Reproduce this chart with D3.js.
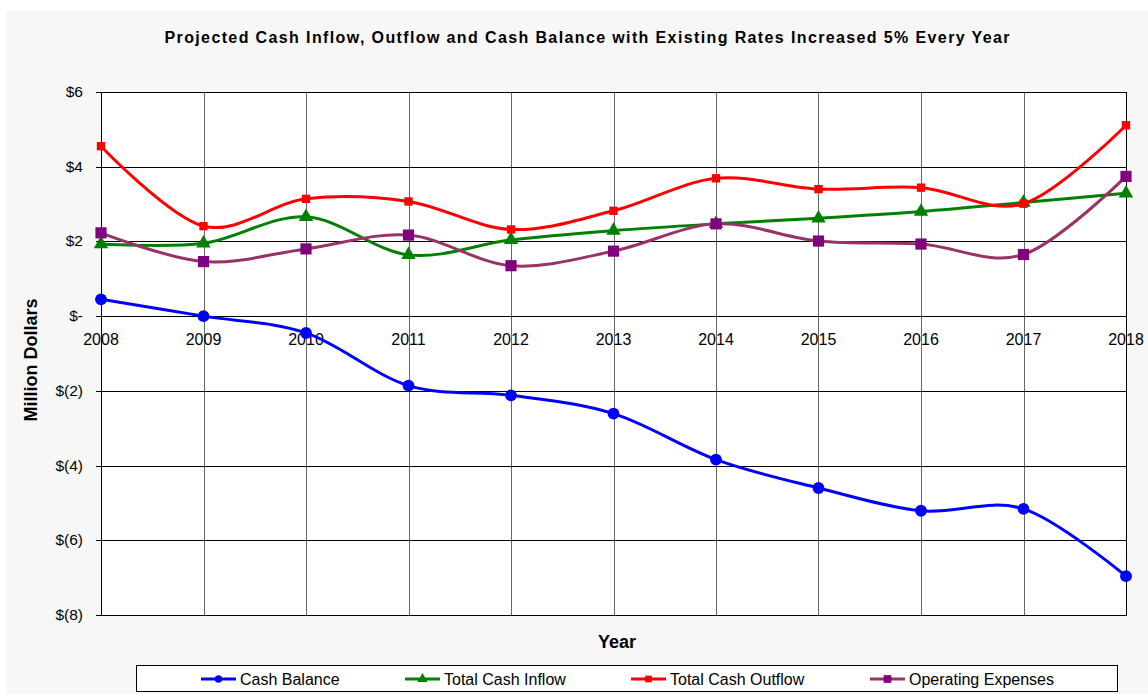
<!DOCTYPE html>
<html lang="en">
<head>
  <meta charset="UTF-8">
  <script src="https://d3js.org/d3.v7.min.js"></script>
  <style>
    body { margin: 0; background: #fff; }
    text { font-family: "Liberation Sans", Arial, sans-serif; fill: #000; }
  </style>
</head>
<body>
  <div id="chart"></div>
  <script>
    // Chart data (million dollars)
    var years = [2008, 2009, 2010, 2011, 2012, 2013, 2014, 2015, 2016, 2017, 2018];
    var cashBalance = [0.45, 0.0, -0.45, -1.86, -2.12, -2.61, -3.84, -4.60, -5.21, -5.16, -6.96];
    var totalInflow = [1.93, 1.95, 2.66, 1.64, 2.04, 2.29, 2.47, 2.62, 2.80, 3.04, 3.29];
    var totalOutflow = [4.55, 2.41, 3.14, 3.07, 2.32, 2.82, 3.69, 3.40, 3.44, 3.01, 5.11];
    var operatingExp = [2.23, 1.46, 1.80, 2.17, 1.35, 1.74, 2.47, 2.01, 1.93, 1.65, 3.74];
    var yTicks = [6, 4, 2, 0, -2, -4, -6, -8];

    var series = [
      { name: "Cash Balance", values: cashBalance, line: "#0000ff", fill: "#0000ff", marker: "circle" },
      { name: "Total Cash Inflow", values: totalInflow, line: "#008000", fill: "#008000", marker: "triangle" },
      { name: "Total Cash Outflow", values: totalOutflow, line: "#ff0000", fill: "#ff0000", marker: "squareSmall" },
      { name: "Operating Expenses", values: operatingExp, line: "#993366", fill: "#800080", marker: "square" }
    ];

    var width = 1148, height = 694;
    var plot = { left: 101, right: 1126, top: 92, bottom: 615 };

    var svg = d3.select("#chart").append("svg")
      .attr("width", width)
      .attr("height", height);

    svg.append("rect")
      .attr("x", 6).attr("y", 11)
      .attr("width", width - 6).attr("height", height - 11)
      .attr("fill", "#f7f7f7");

    var x = d3.scaleLinear().domain([2008, 2018]).range([plot.left, plot.right]);
    var y = d3.scaleLinear().domain([-8, 6]).range([plot.bottom, plot.top]);

    svg.append("rect")
      .attr("x", plot.left).attr("y", plot.top)
      .attr("width", plot.right - plot.left).attr("height", plot.bottom - plot.top)
      .attr("fill", "#fff");

    // vertical grid
    svg.append("g").selectAll("line")
      .data(years)
      .enter().append("line")
      .attr("x1", function (d) { return Math.round(x(d)) + 0.5; })
      .attr("x2", function (d) { return Math.round(x(d)) + 0.5; })
      .attr("y1", plot.top).attr("y2", plot.bottom)
      .attr("stroke", "#666").attr("stroke-width", 1);

    // horizontal grid + ticks
    svg.append("g").selectAll("line")
      .data(yTicks)
      .enter().append("line")
      .attr("x1", plot.left - 5).attr("x2", plot.right)
      .attr("y1", function (d) { return Math.round(y(d)) + 0.5; })
      .attr("y2", function (d) { return Math.round(y(d)) + 0.5; })
      .attr("stroke", "#000").attr("stroke-width", 1);

    svg.append("rect")
      .attr("x", plot.left + 0.5).attr("y", plot.top + 0.5)
      .attr("width", plot.right - plot.left).attr("height", plot.bottom - plot.top)
      .attr("fill", "none").attr("stroke", "#000");

    function fmt(v) {
      if (v === 0) return "$-";
      if (v < 0) return "$(" + (-v) + ")";
      return "$" + v;
    }

    svg.append("g").selectAll("text")
      .data(yTicks)
      .enter().append("text")
      .attr("x", 83)
      .attr("y", function (d) { return y(d) + 5; })
      .attr("text-anchor", "end")
      .style("font-size", "15.5px")
      .text(fmt);

    svg.append("g").selectAll("text")
      .data(years)
      .enter().append("text")
      .attr("x", function (d) { return x(d); })
      .attr("y", y(0) + 29)
      .attr("text-anchor", "middle")
      .style("font-size", "16px")
      .text(function (d) { return d; });

    // title and axis labels
    svg.append("text")
      .attr("x", 587).attr("y", 43)
      .attr("text-anchor", "middle")
      .attr("textLength", 845).attr("lengthAdjust", "spacing")
      .style("font-size", "16px").style("font-weight", "bold")
      .text("Projected Cash Inflow, Outflow and Cash Balance with Existing Rates Increased 5% Every Year");

    svg.append("text")
      .attr("transform", "translate(37,360) rotate(-90)")
      .attr("text-anchor", "middle")
      .style("font-size", "18px").style("font-weight", "bold")
      .text("Million Dollars");

    svg.append("text")
      .attr("x", 617).attr("y", 648)
      .attr("text-anchor", "middle")
      .style("font-size", "18px").style("font-weight", "bold")
      .text("Year");

    // lines
    var line = d3.line()
      .x(function (d, i) { return x(years[i]); })
      .y(function (d) { return y(d); })
      .curve(d3.curveCardinal.tension(0));

    var symbols = {
      circle: d3.symbol().type(d3.symbolCircle).size(110),
      triangle: d3.symbol().type(d3.symbolTriangle).size(90),
      squareSmall: d3.symbol().type(d3.symbolSquare).size(70),
      square: d3.symbol().type(d3.symbolSquare).size(125)
    };

    series.forEach(function (s) {
      var g = svg.append("g");
      g.append("path")
        .datum(s.values)
        .attr("d", line)
        .attr("fill", "none")
        .attr("stroke", s.line)
        .attr("stroke-width", 3);
      g.selectAll("path.mk")
        .data(s.values)
        .enter().append("path")
        .attr("class", "mk")
        .attr("d", symbols[s.marker])
        .attr("transform", function (d, i) { return "translate(" + x(years[i]) + "," + y(d) + ")"; })
        .attr("fill", s.fill);
    });

    // legend
    var legendBox = { x: 136, y: 665, w: 981, h: 26 };
    svg.append("rect")
      .attr("x", legendBox.x + 0.5).attr("y", legendBox.y + 0.5)
      .attr("width", legendBox.w).attr("height", legendBox.h)
      .attr("fill", "#fff").attr("stroke", "#000");

    var legendX = [201, 405, 631, 870];
    var ly = legendBox.y + legendBox.h / 2 + 1;
    series.forEach(function (s, i) {
      var lg = svg.append("g").attr("transform", "translate(" + legendX[i] + "," + ly + ")");
      lg.append("line")
        .attr("x1", 0).attr("x2", 35)
        .attr("stroke", s.line).attr("stroke-width", 3);
      lg.append("path")
        .attr("d", d3.symbol().type(s.marker === "circle" ? d3.symbolCircle :
          s.marker === "triangle" ? d3.symbolTriangle : d3.symbolSquare).size(s.marker === "square" ? 60 : 45))
        .attr("transform", "translate(17.5,0)")
        .attr("fill", s.fill);
      lg.append("text")
        .attr("x", 39).attr("y", 6)
        .style("font-size", "16px")
        .text(s.name);
    });
  </script>
</body>
</html>
